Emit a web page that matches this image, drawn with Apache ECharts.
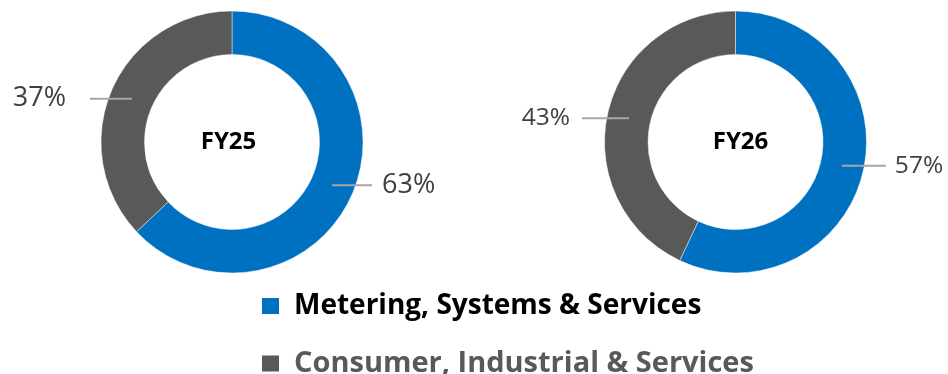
<!DOCTYPE html>
<html>
<head>
<meta charset="utf-8">
<script src="https://cdn.jsdelivr.net/npm/echarts@6/dist/echarts.min.js"></script>
<style>
  html, body { margin: 0; padding: 0; background: #fff; }
  #chart { width: 948px; height: 374px; }
</style>
</head>
<body>
<div id="chart"></div>
<script>
// Revenue mix by segment, shown as one donut per fiscal year
const periods = ['FY25', 'FY26'];
const segments = ['Metering, Systems & Services', 'Consumer, Industrial & Services'];
const metering = [63, 57];
const consumer = [37, 43];

const segmentColors = ['#0070C0', '#595959'];
const legendTextColors = ['#000000', '#595959'];

// per-donut layout
const centers = [[232, 142], [735.5, 142]];
const labelSizes = [27, 24.5];
const titleOffsets = [-3.5, 5];
// leader line lengths and gaps [metering, consumer]
const lineLens = [[40, 42], [44, 47]];
const lineGaps = [[10, 24], [9, 12]];
// legend rows, one per segment
const legendTops = [292, 349];
const legendSizes = [28, 29];

const chart = echarts.init(document.getElementById('chart'));

const series = [];
const titles = [];
periods.forEach((p, i) => {
  const values = [metering[i], consumer[i]];
  // the ring itself
  series.push({
    type: 'pie',
    center: centers[i],
    radius: [87.5, 131],
    startAngle: 90,
    clockwise: true,
    silent: true,
    label: { show: false },
    labelLine: { show: false },
    itemStyle: { borderColor: 'rgba(255,255,255,0.45)', borderWidth: 1 },
    data: values.map((v, k) => ({
      name: segments[k],
      value: v,
      itemStyle: { color: segmentColors[k] }
    }))
  });
  // transparent layer whose labels start their leader lines mid-ring
  series.push({
    type: 'pie',
    center: centers[i],
    radius: [87.5, 109],
    startAngle: 90,
    clockwise: true,
    silent: true,
    avoidLabelOverlap: false,
    z: 3,
    itemStyle: { color: 'rgba(0,0,0,0)' },
    emphasis: { disabled: true },
    data: values.map((v, k) => ({
      name: segments[k],
      value: v,
      itemStyle: { color: 'rgba(0,0,0,0)' },
      label: {
        show: true,
        formatter: '{c}%',
        fontFamily: 'Open Sans',
        fontSize: labelSizes[i],
        color: '#404040',
        distanceToLabelLine: lineGaps[i][k]
      },
      labelLine: {
        show: true,
        length: 0,
        length2: lineLens[i][k],
        lineStyle: { color: '#A6A6A6', width: 2 }
      }
    }))
  });
  titles.push({
    text: p,
    left: centers[i][0] + titleOffsets[i],
    top: centers[i][1],
    textAlign: 'center',
    textVerticalAlign: 'middle',
    padding: 0,
    textStyle: {
      fontFamily: 'Open Sans',
      fontWeight: 'bold',
      fontSize: 24,
      color: '#000000'
    }
  });
});

const legends = segments.map((s, k) => ({
  orient: 'vertical',
  left: 262,
  top: legendTops[k],
  padding: 0,
  itemWidth: 17,
  itemHeight: 16,
  icon: 'rect',
  selectedMode: false,
  textStyle: {
    fontFamily: 'Open Sans',
    fontWeight: 'bold',
    fontSize: legendSizes[k],
    lineHeight: 24,
    padding: [0, 0, 0, 10]
  },
  data: [{
    name: s,
    itemStyle: { color: segmentColors[k], borderWidth: 0 },
    textStyle: { color: legendTextColors[k] }
  }]
}));

chart.setOption({
  animation: false,
  title: titles,
  legend: legends,
  series: series
});
</script>
</body>
</html>
